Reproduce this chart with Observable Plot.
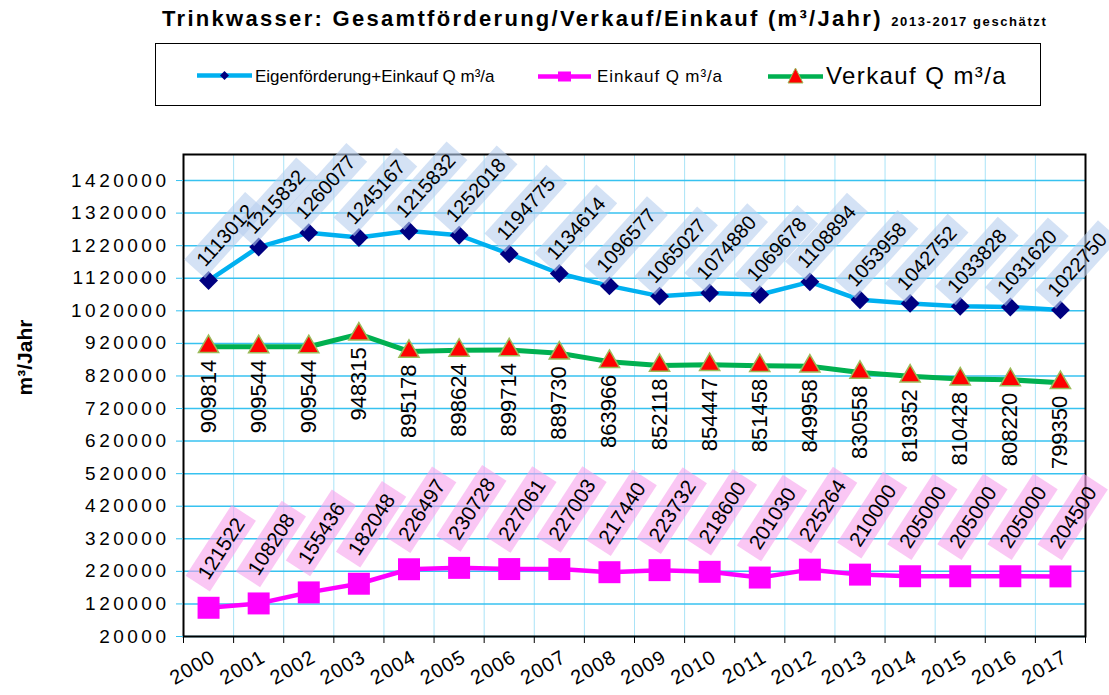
<!DOCTYPE html>
<html>
<head>
<meta charset="utf-8">
<script src="https://cdn.jsdelivr.net/npm/d3@7"></script>
<script src="https://cdn.jsdelivr.net/npm/@observablehq/plot@0.6"></script>
<style>
  body { margin: 0; background: #fff; }
  #wrap { position: relative; width: 1109px; height: 695px; overflow: hidden; font-family: "Liberation Sans", Arial, sans-serif; background: #fff; }
  #title { position: absolute; left: 162px; top: 8px; font-weight: bold; font-size: 22px; letter-spacing: 2.3px; white-space: nowrap; line-height: 22px; color: #000; }
  #title .sub { font-size: 13px; letter-spacing: 1.6px; }
  #legend { position: absolute; left: 155px; top: 43px; width: 884px; height: 61px; border: 1px solid #000; background: #fff; }
  #legend svg { display: block; }
  #plot { position: absolute; left: 0; top: 0; }
  #plot svg { display: block; overflow: visible; }
  [aria-label="y-axis tick label"] text { letter-spacing: 3.5px; }
  [aria-label="x-axis tick label"] text { letter-spacing: 1px; }
</style>
</head>
<body>
<div id="wrap">
  <div id="plot"></div>
  <div id="title">Trinkwasser: Gesamtförderung/Verkauf/Einkauf (m³/Jahr) <span class="sub">2013-2017 geschätzt</span></div>
  <div id="legend">
    <svg width="884" height="61" font-family="Liberation Sans, Arial, sans-serif">
      <line x1="41" x2="96" y1="31.5" y2="31.5" stroke="#00b0f0" stroke-width="4.5"/>
      <path d="M68.5,27 L73,31.5 L68.5,36 L64,31.5 Z" fill="#000080"/>
      <text x="99" y="38" font-size="17" letter-spacing="0">Eigenförderung+Einkauf Q m³/a</text>
      <line x1="382" x2="435" y1="32.5" y2="32.5" stroke="#ff00ff" stroke-width="4.5"/>
      <rect x="402" y="27.5" width="13" height="10" fill="#ff00ff"/>
      <text x="441" y="38" font-size="17" letter-spacing="0.9">Einkauf Q m³/a</text>
      <line x1="612" x2="667" y1="32.5" y2="32.5" stroke="#00b050" stroke-width="4.5"/>
      <path d="M639.5,24 L647,39 L632,39 Z" fill="#ff0000" stroke="#9bbb59" stroke-width="1"/>
      <text x="670" y="40" font-size="24" letter-spacing="1.4">Verkauf Q m³/a</text>
    </svg>
  </div>
</div>
<script>
const years = [2000, 2001, 2002, 2003, 2004, 2005, 2006, 2007, 2008, 2009, 2010, 2011, 2012, 2013, 2014, 2015, 2016, 2017];

// Eigenförderung + Einkauf (blue); plotted values and their printed labels
const gesamtValues = [1113012, 1215832, 1260077, 1245167, 1265000, 1252018, 1194775, 1134614, 1096577, 1065027, 1074880, 1069678, 1108894, 1053958, 1042752, 1033828, 1031620, 1022750];
const gesamtLabels = ["1113012", "1215832", "1260077", "1245167", "1215832", "1252018", "1194775", "1134614", "1096577", "1065027", "1074880", "1069678", "1108894", "1053958", "1042752", "1033828", "1031620", "1022750"];

// Einkauf (magenta)
const einkaufValues = [108208, 121522, 155436, 182048, 226497, 230728, 227061, 227003, 217440, 223732, 218600, 201030, 225264, 210000, 205000, 205000, 205000, 204500];
const einkaufLabels = ["121522", "108208", "155436", "182048", "226497", "230728", "227061", "227003", "217440", "223732", "218600", "201030", "225264", "210000", "205000", "205000", "205000", "204500"];

// Verkauf (green)
const verkaufValues = [909814, 909544, 909544, 948315, 895178, 898624, 899714, 889730, 863966, 852118, 854447, 851458, 849958, 830558, 819352, 810428, 808220, 799350];
const verkaufLabels = ["909814", "909544", "909544", "948315", "895178", "898624", "899714", "889730", "863966", "852118", "854447", "851458", "849958", "830558", "819352", "810428", "808220", "799350"];

const yTicks = [20000, 120000, 220000, 320000, 420000, 520000, 620000, 720000, 820000, 920000, 1020000, 1120000, 1220000, 1320000, 1420000];
const yAxisTitle = ["m³/Jahr"];

const rows = years.map((year, i) => ({
  year,
  gesamt: gesamtValues[i], gLabel: gesamtLabels[i],
  einkauf: einkaufValues[i], eLabel: einkaufLabels[i],
  verkauf: verkaufValues[i], vLabel: verkaufLabels[i]
}));
const boundaries = years.map(y => y - 0.5).concat([years[years.length - 1] + 0.5]);

const plot = Plot.plot({
  width: 1109,
  height: 695,
  marginTop: 154,
  marginRight: 24,
  marginBottom: 59,
  marginLeft: 183,
  style: { fontFamily: '"Liberation Sans", Arial, sans-serif', background: "transparent", color: "black", overflow: "visible" },
  x: { domain: [1999.5, 2017.5], axis: null },
  y: { domain: [20000, 1500000], axis: null },
  marks: [
    Plot.ruleX(boundaries, { stroke: "#a9e3f7", strokeWidth: 1 }),
    Plot.ruleY(yTicks, { stroke: "#37c2f0", strokeWidth: 1.5 }),
    Plot.frame({ stroke: "black", strokeWidth: 2 }),
    Plot.axisY(yTicks, { tickSize: 7, stroke: "#37c2f0", fill: "black", fontSize: 19, tickPadding: 7, label: null, tickFormat: d => String(d) }),
    Plot.axisX(boundaries, { tickSize: 7, stroke: "black", label: null, tickFormat: () => "" }),
    Plot.axisX(years, { tickSize: 0, tickRotate: -30, fontSize: 20, tickPadding: 19, dx: 5, label: null, tickFormat: d => String(d) }),
    Plot.line(rows, { x: "year", y: "verkauf", stroke: "#00b050", strokeWidth: 5 }),
    Plot.line(rows, { x: "year", y: "einkauf", stroke: "#ff00ff", strokeWidth: 4.5 }),
    Plot.line(rows, { x: "year", y: "gesamt", stroke: "#00b0f0", strokeWidth: 4.5 }),
    Plot.dot(rows, { x: "year", y: "verkauf", symbol: "triangle", r: 7.5, fill: "#ff0000", stroke: "#9bbb59", strokeWidth: 1.5 }),
    Plot.dot(rows, { x: "year", y: "einkauf", symbol: "square", r: 12.4, fill: "#ff00ff" }),
    Plot.dot(rows, { x: "year", y: "gesamt", symbol: "diamond2", r: 8.5, fill: "#000080" }),
    Plot.text(rows, { x: "year", y: "verkauf", text: "vLabel", rotate: -90, textAnchor: "end", lineAnchor: "middle", dy: 13, fontSize: 22, fill: "black" }),
    Plot.text(rows, { x: "year", y: "gesamt", text: "gLabel", rotate: -48, dx: 17, dy: -45, fontSize: 20, fill: "black", ariaDescription: "blue-labels" }),
    Plot.text(rows, { x: "year", y: "einkauf", text: "eLabel", rotate: -57, dx: 13, dy: -59, fontSize: 20.5, fill: "black", ariaDescription: "pink-labels" }),
    Plot.text(yAxisTitle, { frameAnchor: "top-left", dx: -158, dy: 203, rotate: -90, textAnchor: "middle", lineAnchor: "middle", fontWeight: "bold", fontSize: 21, fill: "black" })
  ]
});

document.getElementById("plot").appendChild(plot);

function addBoxes(desc, fill, opacity, padX, padY) {
  const g = plot.querySelector(`g[aria-description="${desc}"]`);
  if (!g) return;
  const texts = Array.from(g.querySelectorAll("text"));
  const first = g.firstChild;
  for (const t of texts) {
    const bb = t.getBBox();
    const r = document.createElementNS("http://www.w3.org/2000/svg", "rect");
    r.setAttribute("x", bb.x - padX);
    r.setAttribute("y", bb.y - padY);
    r.setAttribute("width", bb.width + 2 * padX);
    r.setAttribute("height", bb.height + 2 * padY);
    const tr = t.getAttribute("transform");
    if (tr) r.setAttribute("transform", tr);
    r.setAttribute("fill", fill);
    r.setAttribute("fill-opacity", opacity);
    r.setAttribute("stroke", "none");
    g.insertBefore(r, first);
  }
}
addBoxes("blue-labels", "#b8cfee", 0.6, 8, 3);
addBoxes("pink-labels", "#f7a2ec", 0.6, 8, 3);
</script>
</body>
</html>
